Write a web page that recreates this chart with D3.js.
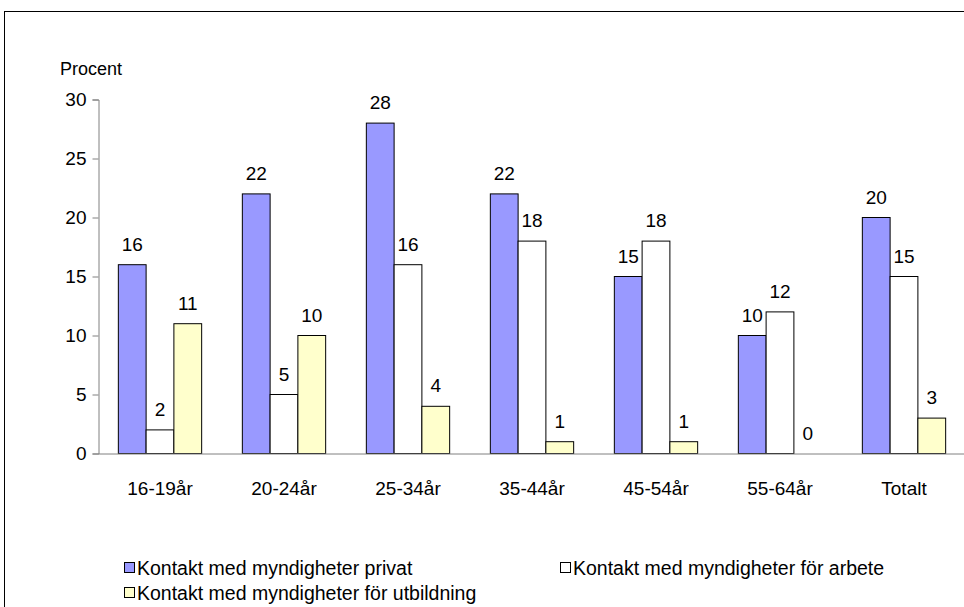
<!DOCTYPE html>
<html>
<head>
<meta charset="utf-8">
<script src="https://cdn.jsdelivr.net/npm/d3@7"></script>
<style>
  html, body { margin: 0; padding: 0; background: #fff; }
  svg { display: block; font-family: "Liberation Sans", Arial, sans-serif; }
</style>
</head>
<body>
<svg id="chart" width="964" height="607"></svg>
<script>
const categories = ["16-19år", "20-24år", "25-34år", "35-44år", "45-54år", "55-64år", "Totalt"];
const seriesNames = [
  "Kontakt med myndigheter privat",
  "Kontakt med myndigheter för arbete",
  "Kontakt med myndigheter för utbildning"
];
const privat     = [16, 22, 28, 22, 15, 10, 20];
const arbete     = [2, 5, 16, 18, 18, 12, 15];
const utbildning = [11, 10, 4, 1, 1, 0, 3];
const yTicks = [0, 5, 10, 15, 20, 25, 30];
const colors = ["#9999FF", "#FFFFFF", "#FFFFCC"];
const yLabel = "Procent";

const series = [privat, arbete, utbildning];
const svg = d3.select("#chart");
const fs = 19;
const lfs = 19.5;

// outer border
svg.append("rect").attr("x", 4.5).attr("y", 11.5).attr("width", 1000).attr("height", 700)
  .attr("fill", "none").attr("stroke", "#000").attr("stroke-width", 1);

const x = d3.scaleBand().domain(categories).range([98, 966]).padding(0);
const y = d3.scaleLinear().domain([0, 30]).range([453.5, 99.5]);
const bw = x.bandwidth() * 0.224;
const off = (x.bandwidth() - 3 * bw) / 2;

// y axis
const yAxis = svg.append("g").attr("transform", "translate(98.5,0)")
  .call(d3.axisLeft(y).tickValues(yTicks).tickSize(6).tickPadding(6));
yAxis.select(".domain").attr("stroke", "#808080");
yAxis.selectAll(".tick line").attr("stroke", "#808080");
yAxis.selectAll("text").attr("font-size", fs).attr("fill", "#000")
  .attr("font-family", "Liberation Sans, Arial, sans-serif");

// bars
series.forEach((vals, si) => {
  svg.append("g").selectAll("rect").data(vals).join("rect")
    .attr("x", (d, i) => x(categories[i]) + off + si * bw)
    .attr("y", d => y(d))
    .attr("width", bw)
    .attr("height", d => y(0) - y(d))
    .attr("fill", colors[si])
    .attr("stroke", "#000").attr("stroke-width", 1);
  svg.append("g").selectAll("text").data(vals).join("text")
    .attr("x", (d, i) => x(categories[i]) + off + si * bw + bw / 2)
    .attr("y", d => y(d) - 14)
    .attr("text-anchor", "middle")
    .attr("font-size", fs)
    .text(d => d);
});

// x axis
const xAxis = svg.append("g").attr("transform", "translate(0,453.5)")
  .call(d3.axisBottom(x).tickSize(0).tickPadding(28));
xAxis.select(".domain").attr("stroke", "#808080");
xAxis.selectAll("text").attr("font-size", fs).attr("fill", "#000")
  .attr("font-family", "Liberation Sans, Arial, sans-serif");

// y label
svg.append("text").attr("x", 60).attr("y", 75).attr("font-size", 18).text(yLabel);

// legend
const legendPos = [[124, 568], [560, 568], [124, 593]];
seriesNames.forEach((name, i) => {
  const [lx, ly] = legendPos[i];
  svg.append("rect").attr("x", lx + 0.5).attr("y", ly - 5.5).attr("width", 10).attr("height", 10)
    .attr("fill", colors[i]).attr("stroke", "#000");
  svg.append("text").attr("x", lx + 13).attr("y", ly + 6.5).attr("font-size", lfs).text(name);
});
</script>
</body>
</html>
